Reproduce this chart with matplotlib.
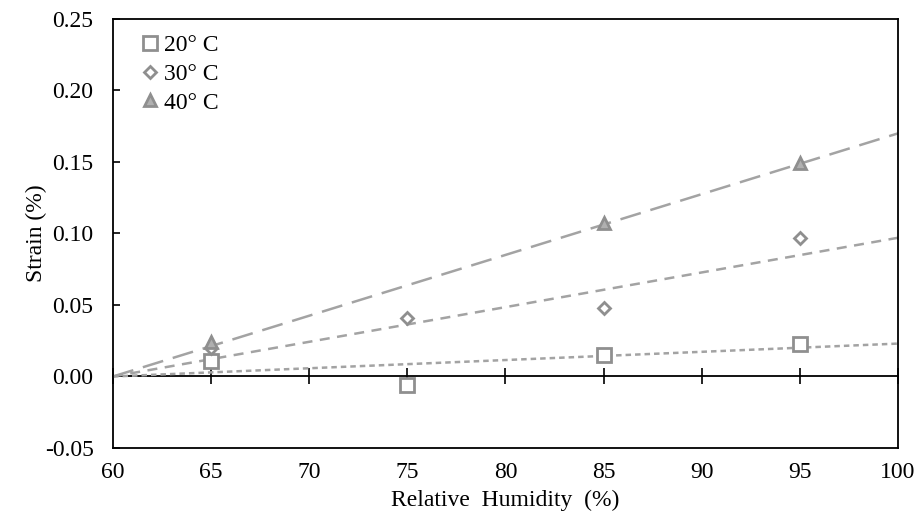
import numpy as np
import matplotlib.pyplot as plt

plt.rcParams['font.family'] = ['Liberation Serif', 'DejaVu Serif']

# relative humidity (%) and measured strain (%)
rh = [65, 75, 85, 95]
strain_20 = [0.011, -0.006, 0.015, 0.023]
strain_30 = [0.020, 0.041, 0.048, 0.097]
rh_40 = [65, 85, 95]
strain_40 = [0.024, 0.107, 0.149]

# linear trendlines, forced through 0 at 60 % RH (value read at 100 % RH)
trend_x = [60, 100]
trend_20 = [0.0, 0.023]
trend_30 = [0.0, 0.097]
trend_40 = [0.0, 0.170]

labels = ['20° C', '30° C', '40° C']
x_ticks = [60, 65, 70, 75, 80, 85, 90, 95, 100]
y_ticks = [-0.05, 0.0, 0.05, 0.10, 0.15, 0.20, 0.25]

line_col = '#a3a3a3'
mark_col = '#8f8f8f'

fig = plt.figure(figsize=(9.21, 5.2), dpi=100)
ax = fig.add_axes([0.1227, 0.1385, 0.8523, 0.825])

lw = 1.8
ax.plot(trend_x, trend_40, color=line_col, lw=lw, dashes=(8.5, 4), zorder=2)
ax.plot(trend_x, trend_30, color=line_col, lw=lw, dashes=(4, 3), zorder=2)
ax.plot(trend_x, trend_20, color=line_col, lw=lw, dashes=(2.2, 1.6), zorder=2)

ax.plot(rh, strain_20, ls='none', marker='s', ms=10, mfc='white',
        mec=mark_col, mew=2, label=labels[0], zorder=3)
ax.plot(rh, strain_30, ls='none', marker='D', ms=6, mfc='white',
        mec=mark_col, mew=2, label=labels[1], zorder=3)
ax.plot(rh_40, strain_40, ls='none', marker='^', ms=9, mfc='#b0b0b0',
        mec=mark_col, mew=2, label=labels[2], zorder=3)

ax.set_xlim(60, 100)
ax.set_ylim(-0.05, 0.25)
ax.set_xticks(x_ticks)
ax.set_yticks(y_ticks)
ax.set_yticklabels(['-0.05', '0.00', '0.05', '0.10', '0.15', '0.20', '0.25'])

ax.tick_params(axis='x', length=0, labelsize=17, pad=10)
ax.tick_params(axis='y', direction='in', length=5, width=1.2,
               labelsize=17, pad=14)
for spine in ax.spines.values():
    spine.set_linewidth(1.3)

# zero line carrying the x ticks
zero = ax.secondary_xaxis(1 / 6)
zero.set_xticks(x_ticks)
zero.tick_params(direction='inout', length=12, width=1.2, labelbottom=False,
                 labeltop=False)
zero.spines['bottom'].set_linewidth(1.3)
zero.spines['top'].set_linewidth(1.3)

ax.set_xlabel('Relative  Humidity  (%)', fontsize=17, labelpad=5)
ax.set_ylabel('Strain (%)', fontsize=17, labelpad=-2)

ax.legend(loc='upper left', frameon=False, fontsize=17, handlelength=0.6,
          handletextpad=0.3, labelspacing=0.3, borderaxespad=0.15,
          bbox_to_anchor=(0.021, 0.993))

fig.savefig('out.png', dpi=100)
